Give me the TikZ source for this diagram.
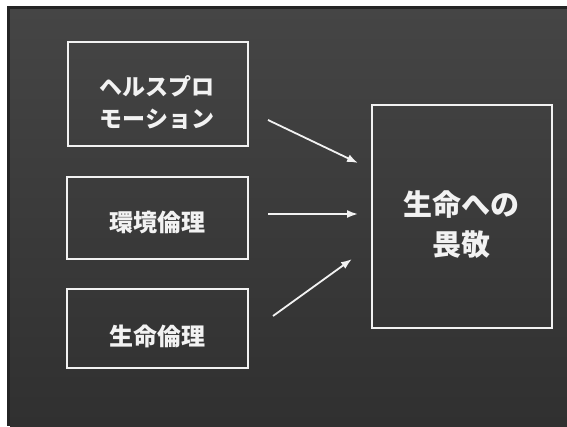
\documentclass[tikz,border=0pt]{standalone}
\usepackage{fontspec}
\newfontfamily\jp{Noto Sans CJK JP}
\usetikzlibrary{arrows.meta}
\definecolor{ink}{HTML}{F2F2F2}
\definecolor{rim}{HTML}{242424}
\definecolor{bgtop}{HTML}{454545}
\definecolor{bgbot}{HTML}{303030}
\tikzset{
  box/.style={draw=ink, line width=2pt, inner sep=0pt},
  lbl/.style={text=ink, align=center, inner sep=0pt, font=\jp\bfseries},
  arr/.style={draw=ink, line width=1.8pt, -{Latex[length=11pt,width=8pt]}}
}
\begin{document}
\begin{tikzpicture}[x=1pt,y=-1pt]
\useasboundingbox (0,0) rectangle (567,426);
\fill[white] (0,0) rectangle (567,426);
\fill[rim] (7,6) rectangle (567,426);
\shade[top color=bgtop, bottom color=bgbot] (10,9) rectangle (567,426);
% boxes
\node[box, minimum width=180pt, minimum height=104pt] (b1) at (157.5,93.5) {};
\node[box, minimum width=181pt, minimum height=82pt] (b2) at (157.5,218) {};
\node[box, minimum width=181pt, minimum height=79pt] (b3) at (157.5,328.5) {};
\node[box, minimum width=180pt, minimum height=223pt] (big) at (462,216.5) {};
% texts
\node[lbl, font=\jp\bfseries\fontsize{23}{32}\selectfont] (t1) at (157,103) {ヘルスプロ\\モーション};
\node[lbl, font=\jp\bfseries\fontsize{24}{30}\selectfont] (t2) at (157,222) {環境倫理};
\node[lbl, font=\jp\bfseries\fontsize{24}{30}\selectfont] (t3) at (157,336) {生命倫理};
\node[lbl, font=\jp\bfseries\fontsize{29}{40}\selectfont] (t4) at (461,225) {生命への\\畏敬};
% arrow end points
\coordinate (a1s) at (268,120);
\coordinate (a1e) at (358,163);
\coordinate (a2s) at (268,214);
\coordinate (a2e) at (358,214);
\coordinate (a3s) at (273,316);
\coordinate (a3e) at (352,259);
\draw[arr] (a1s) -- (a1e);
\draw[arr] (a2s) -- (a2e);
\draw[arr] (a3s) -- (a3e);
\end{tikzpicture}
\end{document}
